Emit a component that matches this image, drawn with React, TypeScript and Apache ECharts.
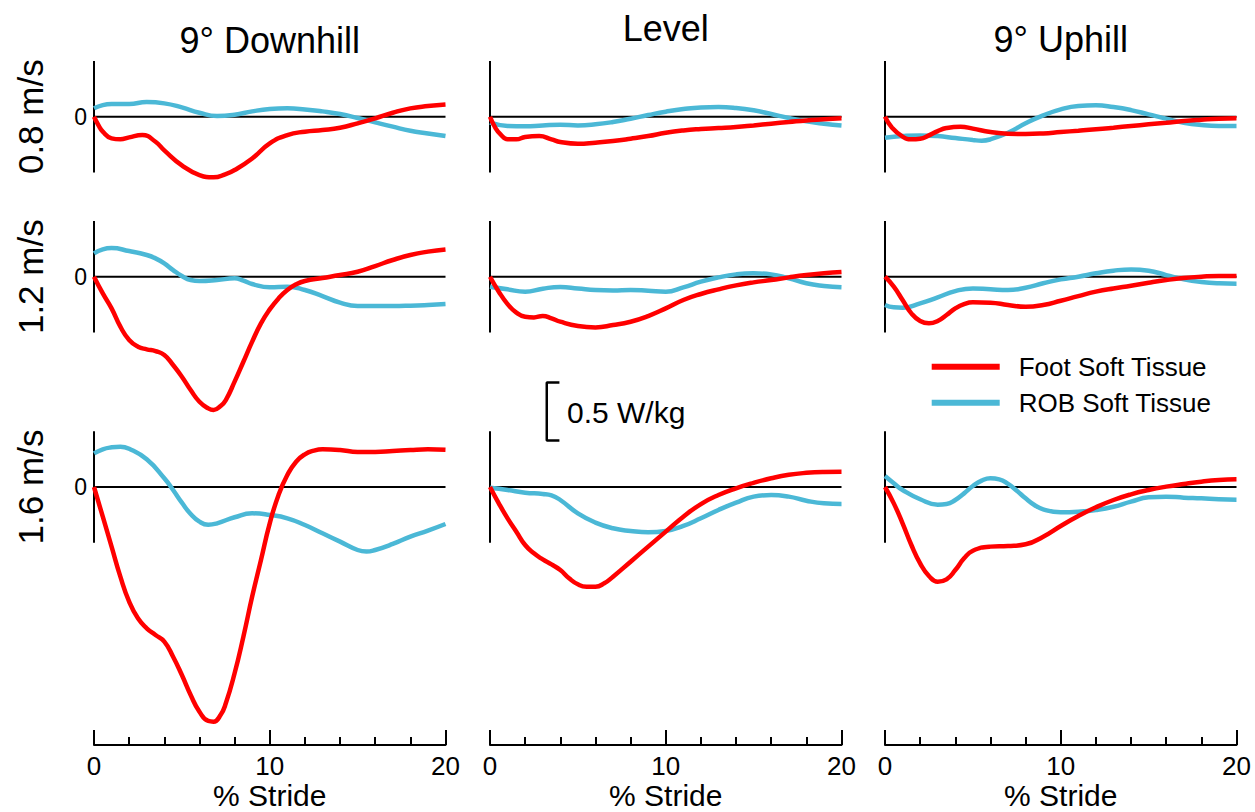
import { useEffect, useRef } from "react";
import * as echarts from "echarts";

// ---------- Labels ----------
const grades = ["9° Downhill", "Level", "9° Uphill"];
const speeds = ["0.8 m/s", "1.2 m/s", "1.6 m/s"];
const seriesNames = ["Foot Soft Tissue", "ROB Soft Tissue"];
const xAxisName = "% Stride";
const scaleBarLabel = "0.5 W/kg";
const scaleBarValue = 0.5;

// ---------- Data: [% stride, W/kg] ----------
const downhill08Foot = [[0,0],[0.25,-0.072],[0.5,-0.129],[1,-0.187],[1.5,-0.195],[2,-0.178],[2.75,-0.158],[3.5,-0.216],[4,-0.29],[5,-0.42],[6,-0.503],[6.8,-0.523],[7.5,-0.494],[8,-0.46],[9,-0.36],[10,-0.23],[11,-0.158],[12,-0.129],[13,-0.115],[14,-0.095],[15,-0.057],[16,-0.014],[17,0.034],[18,0.072],[19,0.092],[20,0.106]];
const downhill08Rob = [[0,0.072],[0.5,0.1],[1,0.109],[2,0.109],[3,0.126],[4,0.115],[5,0.08],[6,0.034],[7,0.006],[8,0.017],[9,0.046],[10,0.066],[11,0.072],[12,0.063],[13,0.046],[14,0.023],[15,-0.011],[16,-0.049],[17,-0.086],[18,-0.121],[19,-0.144],[20,-0.167]];
const level08Foot = [[0,0],[0.3,-0.095],[0.6,-0.152],[1,-0.195],[1.5,-0.195],[2,-0.175],[2.8,-0.167],[3.5,-0.195],[4,-0.218],[5,-0.233],[6,-0.224],[7,-0.21],[8,-0.19],[9,-0.167],[10,-0.138],[11,-0.118],[12,-0.106],[13,-0.098],[14,-0.089],[15,-0.075],[16,-0.06],[17,-0.046],[18,-0.032],[19,-0.023],[20,-0.014]];
const level08Rob = [[0,-0.052],[1,-0.08],[2,-0.083],[3,-0.075],[4,-0.069],[5,-0.075],[6,-0.066],[7,-0.046],[8,-0.017],[9,0.014],[10,0.043],[11,0.066],[12,0.08],[13,0.083],[14,0.075],[15,0.055],[16,0.023],[17,-0.011],[18,-0.04],[19,-0.06],[20,-0.075]];
const uphill08Foot = [[0,0],[0.4,-0.095],[1,-0.172],[1.5,-0.195],[2,-0.19],[2.5,-0.161],[3,-0.124],[3.5,-0.098],[4.3,-0.086],[5,-0.103],[6,-0.132],[7,-0.147],[8,-0.149],[9,-0.144],[10,-0.132],[11,-0.121],[12,-0.109],[13,-0.095],[14,-0.08],[15,-0.066],[16,-0.052],[17,-0.037],[18,-0.026],[19,-0.017],[20,-0.014]];
const uphill08Rob = [[0,-0.181],[1,-0.167],[2,-0.161],[3,-0.167],[4,-0.184],[5,-0.201],[5.5,-0.207],[6,-0.195],[7,-0.138],[8,-0.057],[9,0.011],[10,0.063],[11,0.092],[12,0.098],[13,0.083],[14,0.057],[15,0.02],[16,-0.017],[17,-0.052],[18,-0.072],[19,-0.08],[20,-0.08]];

const downhill12Foot = [[0,0],[0.5,-0.144],[1,-0.273],[1.5,-0.431],[2,-0.546],[2.5,-0.603],[3,-0.626],[3.5,-0.641],[4,-0.675],[4.5,-0.761],[5,-0.862],[5.5,-0.977],[6,-1.078],[6.5,-1.135],[6.8,-1.149],[7.2,-1.115],[7.5,-1.063],[8,-0.905],[8.5,-0.733],[9,-0.56],[9.5,-0.402],[10,-0.282],[10.5,-0.187],[11,-0.115],[11.5,-0.066],[12,-0.037],[13,-0.011],[14,0.014],[15,0.043],[16,0.092],[17,0.144],[18,0.187],[19,0.216],[20,0.235]];
const downhill12Rob = [[0,0.201],[0.5,0.236],[1,0.247],[2,0.221],[3,0.187],[3.5,0.158],[4,0.115],[4.5,0.057],[5,0.006],[5.5,-0.029],[6,-0.037],[7,-0.029],[8,-0.014],[8.5,-0.034],[9,-0.063],[10,-0.092],[11,-0.086],[12,-0.115],[13,-0.167],[14,-0.224],[15,-0.253],[16,-0.253],[17,-0.253],[18,-0.25],[19,-0.244],[20,-0.236]];
const level12Foot = [[0,0],[0.5,-0.129],[1,-0.236],[1.5,-0.31],[2,-0.345],[2.5,-0.351],[3,-0.339],[3.5,-0.359],[4,-0.388],[5,-0.425],[6,-0.437],[7,-0.417],[8,-0.388],[9,-0.339],[10,-0.273],[11,-0.201],[12,-0.149],[13,-0.109],[14,-0.075],[15,-0.049],[16,-0.029],[17,-0.006],[18,0.014],[19,0.029],[20,0.04]];
const level12Rob = [[0,-0.086],[1,-0.109],[2,-0.129],[3,-0.103],[4,-0.089],[5,-0.101],[6,-0.115],[7,-0.118],[8,-0.115],[9,-0.121],[10,-0.129],[11,-0.092],[12,-0.043],[13,-0.006],[14,0.02],[15,0.029],[16,0.02],[17,-0.014],[18,-0.057],[19,-0.08],[20,-0.092]];
const uphill12Foot = [[0,0],[0.5,-0.086],[1,-0.201],[1.5,-0.316],[2,-0.382],[2.5,-0.402],[3,-0.382],[3.5,-0.33],[4,-0.273],[4.5,-0.236],[5,-0.221],[6,-0.224],[7,-0.244],[8,-0.259],[9,-0.244],[10,-0.207],[11,-0.167],[12,-0.129],[13,-0.101],[14,-0.078],[15,-0.052],[16,-0.029],[17,-0.011],[18,0],[19,0.006],[20,0.006]];
const uphill12Rob = [[0,-0.244],[0.5,-0.264],[1,-0.267],[2,-0.23],[3,-0.178],[4,-0.124],[5,-0.101],[6,-0.109],[7,-0.115],[8,-0.095],[9,-0.057],[10,-0.023],[11,0],[12,0.029],[13,0.052],[14,0.063],[15,0.052],[16,0.014],[17,-0.023],[18,-0.046],[19,-0.057],[20,-0.06]];

const downhill16Foot = [[0,0],[0.5,-0.256],[1,-0.514],[1.5,-0.773],[2,-0.989],[2.5,-1.132],[3,-1.218],[3.5,-1.276],[4,-1.333],[4.5,-1.463],[5,-1.621],[5.5,-1.793],[6,-1.937],[6.5,-2.017],[6.8,-2.023],[7.2,-1.966],[7.5,-1.865],[8,-1.606],[8.5,-1.29],[9,-0.945],[9.5,-0.629],[10,-0.313],[10.5,-0.069],[11,0.103],[11.5,0.218],[12,0.282],[12.5,0.313],[13,0.325],[14,0.319],[15,0.302],[16,0.302],[17,0.31],[18,0.319],[19,0.325],[20,0.322]];
const downhill16Rob = [[0,0.29],[0.5,0.325],[1,0.342],[1.5,0.348],[2,0.33],[3,0.239],[4,0.075],[4.5,-0.026],[5,-0.135],[5.5,-0.233],[6,-0.299],[6.5,-0.325],[7,-0.313],[8,-0.261],[9,-0.227],[10,-0.241],[11,-0.27],[12,-0.328],[13,-0.399],[14,-0.471],[15,-0.543],[15.5,-0.557],[16,-0.543],[17,-0.491],[18,-0.428],[19,-0.376],[20,-0.319]];
const level16Foot = [[0,0],[0.5,-0.141],[1,-0.27],[1.5,-0.385],[2,-0.5],[2.5,-0.572],[3,-0.624],[3.5,-0.667],[4,-0.716],[4.5,-0.787],[5,-0.839],[5.5,-0.859],[6,-0.859],[6.5,-0.83],[7,-0.773],[8,-0.644],[9,-0.514],[10,-0.385],[11,-0.256],[12,-0.147],[13,-0.069],[14,-0.011],[15,0.036],[16,0.075],[17,0.105],[18,0.122],[19,0.13],[20,0.132]];
const level16Rob = [[0,-0.006],[1,-0.026],[2,-0.049],[3,-0.06],[3.5,-0.072],[4,-0.112],[5,-0.227],[6,-0.307],[7,-0.356],[8,-0.379],[9,-0.391],[10,-0.379],[11,-0.336],[12,-0.27],[13,-0.198],[14,-0.135],[15,-0.083],[16,-0.069],[17,-0.083],[18,-0.118],[19,-0.141],[20,-0.147]];
const uphill16Foot = [[0,0],[0.5,-0.141],[1,-0.313],[1.5,-0.5],[2,-0.658],[2.5,-0.767],[3,-0.816],[3.5,-0.796],[4,-0.716],[4.5,-0.615],[5,-0.549],[6,-0.514],[7,-0.509],[8,-0.494],[9,-0.428],[10,-0.336],[11,-0.25],[12,-0.175],[13,-0.112],[14,-0.063],[15,-0.026],[16,0.003],[17,0.026],[18,0.046],[19,0.06],[20,0.066]];
const uphill16Rob = [[0,0.095],[0.5,0.032],[1,-0.026],[2,-0.106],[3,-0.152],[3.5,-0.147],[4,-0.112],[4.5,-0.055],[5,0.009],[5.5,0.055],[6,0.075],[6.5,0.066],[7,0.026],[7.5,-0.032],[8,-0.098],[8.5,-0.155],[9,-0.193],[10,-0.218],[11,-0.213],[12,-0.198],[13,-0.17],[14,-0.126],[15,-0.089],[16,-0.083],[17,-0.092],[18,-0.098],[19,-0.106],[20,-0.11]];

const footData = [
  [downhill08Foot, level08Foot, uphill08Foot],
  [downhill12Foot, level12Foot, uphill12Foot],
  [downhill16Foot, level16Foot, uphill16Foot],
];
const robData = [
  [downhill08Rob, level08Rob, uphill08Rob],
  [downhill12Rob, level12Rob, uphill12Rob],
  [downhill16Rob, level16Rob, uphill16Rob],
];

// ---------- Layout / style ----------
const FONT = "'Liberation Sans', Arial, Helvetica, sans-serif";
const RED = "#FF0000";
const BLUE = "#4BB8D6";
const PX_PER_UNIT = 116;
const COL_LEFT = [94, 490, 885];
const COL_WIDTH = 351.5;
const ROW_ZERO = [116.7, 276.7, 487];
const ROW_TOP = [55, 212, 372];
const ROW_BOTTOM = [200, 425, 745];
const Y_AXIS_HALF = 0.48;
const TITLE_Y = [40, 28, 39];
const SCALE_GRID = 7;
const SCALE_X = [3.23, 3.95];
const SCALE_BOTTOM = 0.4;

function buildOption() {
  const grid: any[] = [];
  const xAxis: any[] = [];
  const yAxis: any[] = [];
  const series: any[] = [];
  for (let r = 0; r < 3; r++) {
    for (let c = 0; c < 3; c++) {
      const idx = r * 3 + c;
      const bottomRow = r === 2;
      grid.push({
        left: COL_LEFT[c],
        top: ROW_TOP[r],
        width: COL_WIDTH,
        height: ROW_BOTTOM[r] - ROW_TOP[r],
        containLabel: false,
        outerBoundsMode: "none",
      });
      xAxis.push({
        type: "value",
        gridIndex: idx,
        min: 0,
        max: 20,
        interval: 10,
        show: bottomRow,
        name: bottomRow ? xAxisName : "",
        nameLocation: "middle",
        nameGap: 35,
        nameTextStyle: { fontSize: 30, lineHeight: 30, color: "#000", fontFamily: FONT },
        axisLine: { show: true, onZero: false, lineStyle: { color: "#000", width: 2 } },
        axisTick: { show: true, inside: true, length: 15, lineStyle: { color: "#000", width: 2 } },
        minorTick: { show: true, splitNumber: 5, length: 8, lineStyle: { color: "#000", width: 2 } },
        axisLabel: { show: true, fontSize: 26, color: "#000", margin: 8, fontFamily: FONT },
        splitLine: { show: false },
        minorSplitLine: { show: false },
      });
      yAxis.push({
        type: "value",
        gridIndex: idx,
        min: -(ROW_BOTTOM[r] - ROW_ZERO[r]) / PX_PER_UNIT,
        max: (ROW_ZERO[r] - ROW_TOP[r]) / PX_PER_UNIT,
        axisLine: { show: false },
        axisTick: { show: false },
        splitLine: { show: false },
        axisLabel:
          c === 0
            ? { show: true, customValues: [0], fontSize: 23, color: "#000", margin: 7, fontFamily: FONT }
            : { show: false },
      });
      const common = {
        type: "line",
        xAxisIndex: idx,
        yAxisIndex: idx,
        symbol: "none",
        silent: true,
      };
      series.push({
        ...common,
        name: "zero",
        data: [[0, 0], [20, 0]],
        lineStyle: { color: "#000", width: 2 },
        itemStyle: { color: "#000" },
        z: 1,
      });
      series.push({
        ...common,
        name: "yaxis",
        data: [[0, -Y_AXIS_HALF], [0, Y_AXIS_HALF]],
        lineStyle: { color: "#000", width: 2 },
        itemStyle: { color: "#000" },
        z: 1,
      });
      series.push({
        ...common,
        name: seriesNames[1],
        data: robData[r][c],
        smooth: 0.5,
        color: BLUE,
        lineStyle: { color: BLUE, width: 4.5 },
        itemStyle: { color: BLUE },
        z: 2,
      });
      series.push({
        ...common,
        name: seriesNames[0],
        data: footData[r][c],
        smooth: 0.5,
        color: RED,
        lineStyle: { color: RED, width: 4.5 },
        itemStyle: { color: RED },
        z: 3,
      });
    }
  }
  // scale bar
  series.push({
    type: "line",
    name: "scale",
    xAxisIndex: SCALE_GRID,
    yAxisIndex: SCALE_GRID,
    symbol: "none",
    silent: true,
    data: [
      [SCALE_X[1], SCALE_BOTTOM + scaleBarValue],
      [SCALE_X[0], SCALE_BOTTOM + scaleBarValue],
      [SCALE_X[0], SCALE_BOTTOM],
      [SCALE_X[1], SCALE_BOTTOM],
    ],
    lineStyle: { color: "#000", width: 2.5 },
    itemStyle: { color: "#000" },
  });

  const graphic: any[] = [];
  grades.forEach((g, c) => {
    graphic.push({
      type: "text",
      x: COL_LEFT[c] + COL_WIDTH / 2,
      y: TITLE_Y[c],
      style: { text: g, fontSize: 36, fontFamily: FONT, fill: "#000", align: "center", verticalAlign: "middle" },
    });
  });
  speeds.forEach((s, r) => {
    graphic.push({
      type: "text",
      x: 30,
      y: ROW_ZERO[r],
      rotation: Math.PI / 2,
      style: { text: s, fontSize: 35, fontFamily: FONT, fill: "#000", align: "center", verticalAlign: "middle" },
    });
  });
  graphic.push({
    type: "text",
    x: 567,
    y: 412,
    style: { text: scaleBarLabel, fontSize: 30, fontFamily: FONT, fill: "#000", align: "left", verticalAlign: "middle" },
  });

  return {
    animation: false,
    backgroundColor: "#fff",
    textStyle: { fontFamily: FONT },
    grid,
    xAxis,
    yAxis,
    series,
    graphic,
    legend: {
      data: seriesNames,
      left: 931.7,
      top: 348.7,
      orient: "vertical",
      padding: 0,
      itemGap: 0,
      itemWidth: 68,
      itemHeight: 6,
      icon: "rect",
      selectedMode: false,
      itemStyle: { borderWidth: 0 },
      textStyle: { fontSize: 26, color: "#000", lineHeight: 36, padding: [0, 0, 0, 14], fontFamily: FONT },
    },
  };
}

export default function App() {
  const ref = useRef<HTMLDivElement>(null);
  useEffect(() => {
    if (!ref.current) return;
    const chart = echarts.init(ref.current, undefined, { renderer: "svg" });
    chart.setOption(buildOption() as any);
    return () => chart.dispose();
  }, []);
  return (
    <div
      ref={ref}
      style={{ position: "fixed", left: 0, top: 0, width: 1255, height: 812, background: "#fff" }}
    />
  );
}
